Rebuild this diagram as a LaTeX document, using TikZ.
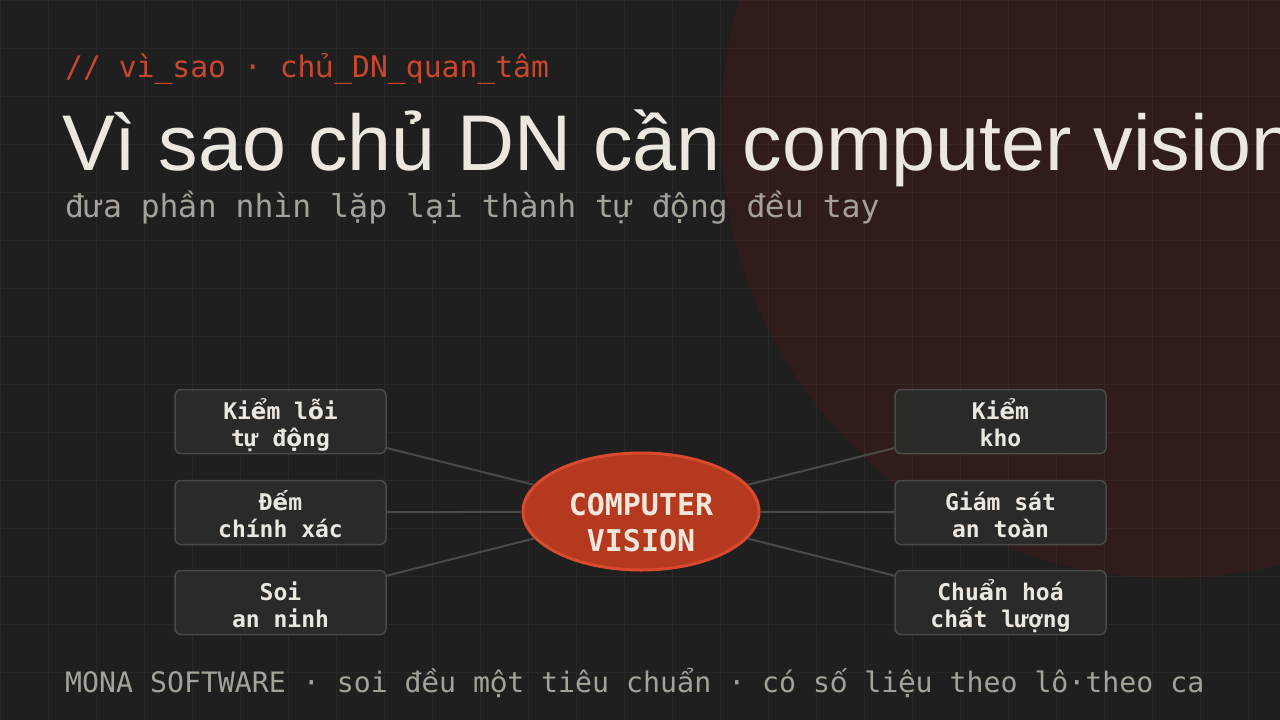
\documentclass[tikz,border=0pt]{standalone}
\usepackage{fontspec}
\setmainfont{Liberation Sans}
\newfontfamily\dvsmono{DejaVu Sans Mono}
\newfontfamily\vnfont{DejaVu Sans}
\usetikzlibrary{shapes.geometric}

% mono font, with DejaVu Sans for the Vietnamese letters it lacks
\newif\ifmonoactive
\newcommand\monofont{\dvsmono\monoactivetrue}
\XeTeXinterchartokenstate=1
\newXeTeXintercharclass\vnclass
\XeTeXcharclass`ấ=\vnclass \XeTeXcharclass`ầ=\vnclass \XeTeXcharclass`ẩ=\vnclass \XeTeXcharclass`ẫ=\vnclass
\XeTeXcharclass`ế=\vnclass \XeTeXcharclass`ề=\vnclass \XeTeXcharclass`ể=\vnclass \XeTeXcharclass`ễ=\vnclass
\XeTeXcharclass`ố=\vnclass \XeTeXcharclass`ồ=\vnclass \XeTeXcharclass`ổ=\vnclass \XeTeXcharclass`ỗ=\vnclass
\XeTeXcharclass`ộ=\vnclass \XeTeXcharclass`ệ=\vnclass \XeTeXcharclass`ậ=\vnclass \XeTeXcharclass`ặ=\vnclass
\XeTeXcharclass`ả=\vnclass \XeTeXcharclass`ẻ=\vnclass \XeTeXcharclass`ỉ=\vnclass \XeTeXcharclass`ỏ=\vnclass
\XeTeXcharclass`ủ=\vnclass \XeTeXcharclass`ỷ=\vnclass \XeTeXcharclass`ở=\vnclass \XeTeXcharclass`ử=\vnclass
\XeTeXinterchartoks 0 \vnclass={\ifmonoactive\begingroup\vnfont\fi}
\XeTeXinterchartoks 4095 \vnclass={\ifmonoactive\begingroup\vnfont\fi}
\XeTeXinterchartoks \vnclass 0={\ifmonoactive\endgroup\fi}
\XeTeXinterchartoks \vnclass 4095={\ifmonoactive\endgroup\fi}

\definecolor{bgdark}{HTML}{1F1F1F}
\definecolor{circlered}{HTML}{301D1B}
\definecolor{accent}{HTML}{C9472D}
\definecolor{cvfill}{HTML}{B5391F}
\definecolor{cvborder}{HTML}{D8492E}
\definecolor{cvtext}{HTML}{F4E6DA}
\definecolor{boxfill}{HTML}{2A2A28}
\definecolor{boxline}{HTML}{4B4A46}
\definecolor{lighttext}{HTML}{ECE8E0}
\definecolor{graytext}{HTML}{A6A29A}

% two lines with a fixed line box
\newcommand\boxlines[2]{\rule{0pt}{30pt}#1\\#2\rule[-7pt]{0pt}{7pt}}

\begin{document}
\begin{tikzpicture}[x=1pt,y=-1pt,
    usecase/.style={draw=boxline,line width=1.5pt,fill=boxfill,rounded corners=6pt,
      minimum width=211pt,minimum height=63pt,inner sep=0pt,align=center,
      text=lighttext,font=\monofont\bfseries\fontsize{23}{27}\selectfont},
    hub/.style={ellipse,draw=cvborder,line width=3pt,fill=cvfill,
      minimum width=236pt,minimum height=117pt,inner sep=0pt,align=center,
      text=cvtext,font=\monofont\bfseries\fontsize{30}{36}\selectfont},
    link/.style={draw=boxline,line width=2pt}]

    % Latar belakang dan batas gambar
    \useasboundingbox (0,0) rectangle (1280,720);
    \fill[bgdark] (0,0) rectangle (1280,720);

    % Lingkaran merah gelap di kanan atas
    \begin{scope}
      \clip (0,0) rectangle (1280,720);
      \fill[circlered] (1171,128) circle (450pt);
    \end{scope}

    % Grid tipis
    \draw[white,opacity=.045,line width=1pt] (0,0) grid[step=48pt] (1280,720);

    % Judul dan teks
    \node[anchor=base west,inner sep=0pt,text=accent,font=\monofont\fontsize{29.7}{32}\selectfont] (tag) at (65,77) {// vì\_sao · chủ\_DN\_quan\_tâm};
    \node[anchor=base west,inner sep=0pt,text=lighttext,font=\fontsize{79}{90}\selectfont] (title) at (62,170) {Vì sao chủ DN cần computer vision};
    \node[anchor=base west,inner sep=0pt,text=graytext,font=\monofont\fontsize{31.4}{34}\selectfont] (subtitle) at (65,217) {đưa phần nhìn lặp lại thành tự động đều tay};
    \node[anchor=base west,inner sep=0pt,text=graytext,font=\monofont\fontsize{28.2}{30}\selectfont] (footer) at (65,692) {MONA SOFTWARE · soi đều một tiêu chuẩn · có số liệu theo lô·theo ca};

    % Kotak-kotak manfaat
    \node[usecase] (errcheck) at (280.5,421.5) {\boxlines{Kiểm lỗi}{tự động}};
    \node[usecase] (counting) at (280.5,512.5) {\boxlines{Đếm}{chính xác}};
    \node[usecase] (security) at (280.5,602.5) {\boxlines{Soi}{an ninh}};
    \node[usecase] (stock) at (1000.5,421.5) {\boxlines{Kiểm}{kho}};
    \node[usecase] (safety) at (1000.5,512.5) {\boxlines{Giám sát}{an toàn}};
    \node[usecase] (quality) at (1000.5,602.5) {\boxlines{Chuẩn hoá}{chất lượng}};

    % Elips pusat
    \node[hub] (cv) at (641,511.5) {\rule{0pt}{45pt}COMPUTER\\VISION};

    % Garis penghubung
    \foreach \b in {errcheck,counting,security,stock,safety,quality}
      \draw[link] (\b) -- (cv);

\end{tikzpicture}
\end{document}
